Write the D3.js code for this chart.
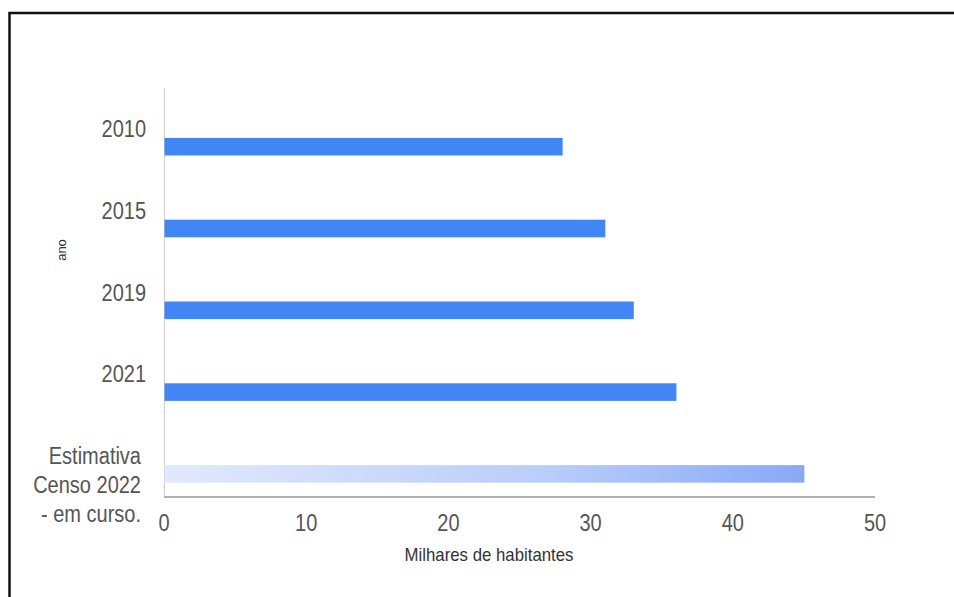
<!DOCTYPE html>
<html>
<head>
<meta charset="utf-8">
<script src="https://cdn.jsdelivr.net/npm/d3@7"></script>
<style>
  body { margin: 0; background: #fff; }
  svg { display: block; font-family: Arial, "Liberation Sans", sans-serif; }
  .cat { fill: #555; font-size: 20px; }
  .tick-label { fill: #555; font-size: 20px; }
  .axis-title { fill: #333; font-size: 15px; }
</style>
</head>
<body>
<div id="chart"></div>
<script>
// categories (multi-line labels use \n) and values in thousands
const anos = ["2010", "2015", "2019", "2021", "Estimativa\nCenso 2022\n- em curso."];
const habitantes = [28, 31, 33, 36, 45];
const estimado = [false, false, false, false, true];
const xTicks = [0, 10, 20, 30, 40, 50];

const width = 954, height = 597;
const margin = { top: 88, left: 164, right: 79, bottom: 100 };
const plotW = width - margin.left - margin.right;
const plotH = height - margin.top - margin.bottom;

const svg = d3.select('#chart').append('svg').attr('width', width).attr('height', height);

// outer frame (only top and left edges visible)
svg.append('path')
  .attr('d', `M9.5,${height} L9.5,13 L${width},13`)
  .attr('fill', 'none').attr('stroke', '#111').attr('stroke-width', 2.5);

const defs = svg.append('defs');
const grad = defs.append('linearGradient').attr('id', 'estGrad')
  .attr('x1', '0%').attr('x2', '100%').attr('y1', '0%').attr('y2', '0%');
grad.append('stop').attr('offset', '0%').attr('stop-color', '#e1e9fd');
grad.append('stop').attr('offset', '60%').attr('stop-color', '#b9cdfa');
grad.append('stop').attr('offset', '100%').attr('stop-color', '#88a9f7');

const data = anos.map((a, i) => ({ ano: a, valor: habitantes[i], est: estimado[i] }));

const x = d3.scaleLinear().domain([0, 50]).range([0, plotW]);
const y = d3.scaleBand().domain(anos).range([0, plotH]);

const chart = svg.append('g').attr('transform', `translate(${margin.left},${margin.top})`);

// vertical axis line
chart.append('line').attr('x1', 0.5).attr('x2', 0.5).attr('y1', 0).attr('y2', plotH)
  .attr('stroke', '#ccc').attr('stroke-width', 1);

// bars sit in the lower part of each band
const barOff = y.bandwidth() * 0.61, barH = y.bandwidth() * 0.215;
chart.selectAll('rect.bar').data(data).join('rect')
  .attr('class', 'bar')
  .attr('x', 0.5)
  .attr('y', d => y(d.ano) + barOff)
  .attr('width', d => x(d.valor))
  .attr('height', barH)
  .attr('fill', d => d.est ? 'url(#estGrad)' : '#4285f4');

// baseline
chart.append('line').attr('x1', 0).attr('x2', plotW).attr('y1', plotH).attr('y2', plotH)
  .attr('stroke', '#999').attr('stroke-width', 1.5);

// category labels (slightly stretched vertically like the source)
chart.selectAll('text.cat').data(data).join('text')
  .attr('class', 'cat')
  .attr('text-anchor', 'end')
  .attr('transform', d => `translate(${d.est ? -23 : -18},${y(d.ano) + y.bandwidth() / 2 + 8})scale(1,1.15)`)
  .each(function(d) {
    const lines = d.ano.split('\n');
    d3.select(this).selectAll('tspan').data(lines).join('tspan')
      .attr('x', 0).attr('dy', (l, i) => i === 0 ? 0 : 25)
      .text(l => l);
  });

// x tick labels
chart.selectAll('text.tick-label').data(xTicks).join('text')
  .attr('class', 'tick-label')
  .attr('text-anchor', 'middle')
  .attr('transform', d => `translate(${x(d)},${plotH + 34})scale(1,1.15)`)
  .text(d => d);

// axis titles
chart.append('text').attr('class', 'axis-title')
  .attr('text-anchor', 'middle')
  .attr('transform', `translate(325,${plotH + 64})scale(1.05,1.12)`)
  .style('font-size', '16px')
  .text('Milhares de habitantes');

svg.append('text').attr('class', 'axis-title')
  .attr('text-anchor', 'middle')
  .attr('transform', `translate(66,${margin.top + 162})rotate(-90)`)
  .style('font-size', '13px')
  .text('ano');
</script>
</body>
</html>
